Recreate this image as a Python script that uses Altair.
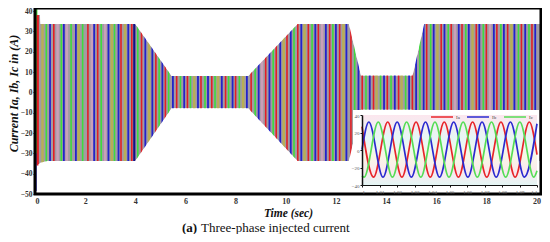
import altair as alt
import pandas as pd

# ---------------- main panel: envelope of the three-phase current
env_t  = [0.0, 0.2, 0.22, 0.5, 4.0, 5.45, 8.5, 10.47, 12.52, 13.0, 15.06, 15.52, 20.18]
env_hi = [38.0, 38.0, 33.6, 33.6, 33.6, 8.0, 8.0, 33.6, 33.6, 8.3, 8.3, 33.6, 33.6]
env_lo = [-36.0, -35.0, -34.6, -33.8, -33.8, -7.8, -7.8, -33.8, -33.8, -8.6, -8.6, -33.8, -33.8]

# visible coloured stripes (aliasing of the 3 phases) : time and colour code
stripe_t = [0.12, 0.3, 0.45, 0.6, 0.75, 0.9, 1.05, 1.15, 1.27, 1.44, 1.63, 1.74, 1.90, 2.11, 2.27,
            2.36, 2.50, 2.64, 2.80, 2.93, 3.06, 3.17, 3.33, 3.43, 3.59, 3.72, 3.86, 3.96,
            4.1, 4.25, 4.4, 4.55, 4.68, 4.82, 4.95, 5.08, 5.2, 5.33, 5.5,
            5.65, 5.8, 5.95, 6.08, 6.2, 6.35, 6.5, 6.62, 6.78, 6.9, 7.05, 7.18, 7.3, 7.45, 7.6,
            7.72, 7.88, 8.0, 8.15, 8.3, 8.45,
            8.62, 8.78, 8.92, 9.05, 9.2, 9.35, 9.5, 9.62, 9.78, 9.92, 10.05, 10.2, 10.33, 10.48,
            10.62, 10.75, 10.9, 11.05, 11.18, 11.3, 11.45, 11.6, 11.75, 11.88, 12.0, 12.15, 12.3, 12.42,
            12.6, 12.75, 12.9, 13.05, 13.2, 13.35, 13.5, 13.62, 13.78, 13.92, 14.05, 14.2, 14.35, 14.5,
            14.62, 14.78, 14.92, 15.05, 15.2, 15.35, 15.5,
            15.62, 15.78, 15.9, 16.05, 16.2, 16.33, 16.48, 16.6, 16.75, 16.9, 17.03, 17.18, 17.3, 17.45,
            17.6, 17.72, 17.88, 18.0, 18.15, 18.3, 18.42, 18.58, 18.7, 18.85, 19.0, 19.12, 19.28, 19.4,
            19.55, 19.7, 19.82, 19.95]
stripe_c = ("rygbrpgbpgbygrpbrgpbygbrybrk"
            "grbybrgbrgb"
            "rgbrgybrgbrgybrgbrgyb"
            "rgbprbgrbyrbgr"
            "byrgbrpbrgbryb"
            "rgbrgbryg" "brgbrygbrbgb"
            "rgbyrbgrpbrgbyrbgrpbrgbrybgrbgrb")

# start-up transient near t = 0
tr_t = [0.03, 0.06, 0.1]
tr_top = [18.0, 41.5, 38.0]
tr_bot = [-48.5, -30.0, -36.0]
tr_c = ["b", "g", "r"]

# ---------------- inset: zoom 1.00 - 1.10 s, extrema
phases = ["Ia", "Ib", "Ic"]
ia_t = [1.0, 1.0066, 1.0147, 1.0228, 1.0309, 1.0390, 1.0470, 1.0551, 1.0632, 1.0713, 1.0794, 1.0875, 1.0956, 1.1]
ia_v = [26.7, -31, 32, -31, 32, -31, 32, -31, 32, -31, 32, -31, 32, -5.4]
ib_t = [1.0, 1.0039, 1.0120, 1.0201, 1.0282, 1.0363, 1.0443, 1.0524, 1.0605, 1.0686, 1.0767, 1.0848, 1.0928, 1.1]
ib_v = [0.5, 32, -31, 32, -31, 32, -31, 32, -31, 32, -31, 32, -31, 30]
ic_t = [1.0, 1.0012, 1.0093, 1.0174, 1.0255, 1.0336, 1.0417, 1.0497, 1.0578, 1.0659, 1.0740, 1.0821, 1.0902, 1.0982, 1.1]
ic_v = [-29.5, -31, 32, -31, 32, -31, 32, -31, 32, -31, 32, -31, 32, -31, -23.7]
inset_xticks = [1.0, 1.01, 1.02, 1.03, 1.04, 1.05, 1.06, 1.07, 1.08, 1.09, 1.1]
inset_yticks = [-40, -20, 0, 20, 40]

caption_a = "(a)"
caption_rest = "Three-phase injected current"

# ---------------- styles / layout
W, H = 506, 186
SERIF = "Liberation Serif"
stripe_colors = {"r": "#e31e24", "g": "#3ddc3d", "b": "#2222cc", "y": "#b8ae55",
                 "p": "#caa0b8", "k": "#111188"}
stripe_widths = {"r": 1.6, "g": 1.6, "b": 1.8, "y": 2.5, "p": 2.5, "k": 2.2}
phase_colors = ["#e8252a", "#2a2ad0", "#55dd55"]

df_env = pd.DataFrame({"t": env_t, "hi": env_hi, "lo": env_lo})
df_str = pd.DataFrame({"t": stripe_t, "c": list(stripe_c)[:len(stripe_t)]})
df_str["color"] = df_str["c"].map(stripe_colors)
df_str["w"] = df_str["c"].map(stripe_widths)
df_tr = pd.DataFrame({"t": tr_t, "top": tr_top, "bot": tr_bot,
                      "color": [stripe_colors[c] for c in tr_c]})

Y_MIN, Y_MAX = -50, 41.5
xs = alt.Scale(domain=[0, 20.18], nice=False, zero=False)
ys = alt.Scale(domain=[Y_MIN, Y_MAX], nice=False, zero=False)

x_axis = alt.Axis(
    values=list(range(0, 21, 2)), title="Time (sec)", ticks=False, domain=False, grid=False,
    labelOverlap=False, labelFont=SERIF, labelFontWeight="bold", labelFontSize=8,
    labelColor="#333", labelPadding=3, titleFont=SERIF, titleFontStyle="italic",
    titleFontWeight="bold", titleFontSize=11.5, titlePadding=2, titleColor="#111")
y_axis = alt.Axis(
    values=list(range(-50, 41, 10)), title="Current Ia, Ib, Ic in (A)", domain=False, grid=False,
    labelOverlap=False, tickSize=2, tickColor="#222", labelFont=SERIF, labelFontWeight="bold",
    labelFontSize=7.5, labelColor="#333", labelPadding=1, titleFont=SERIF,
    titleFontStyle="italic", titleFontWeight="bold", titleFontSize=12, titlePadding=0,
    titleColor="#111", titleY=85)

base = alt.Chart(df_env).mark_area(color="#a29ba3").encode(
    x=alt.X("t:Q", scale=xs, axis=x_axis),
    y=alt.Y("hi:Q", scale=ys, axis=y_axis),
    y2="lo:Q",
)

stripes = alt.Chart(df_str).mark_rule().encode(
    x=alt.X("t:Q", axis=x_axis), y=alt.value(0), y2=alt.value(H),
    color=alt.Color("color:N", scale=None),
    strokeWidth=alt.StrokeWidth("w:Q", scale=None),
)

mask_top = alt.Chart(df_env).mark_area(color="white").encode(
    x=alt.X("t:Q", axis=x_axis), y=alt.Y("hi:Q", axis=y_axis), y2=alt.datum(Y_MAX))
mask_bot = alt.Chart(df_env).mark_area(color="white").encode(
    x=alt.X("t:Q", axis=x_axis), y=alt.Y("lo:Q", axis=y_axis), y2=alt.datum(Y_MIN))

trans = alt.Chart(df_tr).mark_rule(strokeWidth=1.8).encode(
    x=alt.X("t:Q", axis=x_axis), y=alt.Y("top:Q", axis=y_axis), y2="bot:Q",
    color=alt.Color("color:N", scale=None))

one = pd.DataFrame({"k": [0]})
frame = alt.Chart(one).mark_rect(fillOpacity=0, stroke="black", strokeWidth=3).encode(
    x=alt.value(0), x2=alt.value(W), y=alt.value(0), y2=alt.value(H))

cap_a = alt.Chart(pd.DataFrame({"s": [caption_a]})).mark_text(
    align="left", baseline="middle", font=SERIF, fontSize=13, fontWeight="bold", color="#111"
).encode(x=alt.value(147), y=alt.value(219.5), text="s:N")
cap_b = alt.Chart(pd.DataFrame({"s": [caption_rest]})).mark_text(
    align="left", baseline="middle", font=SERIF, fontSize=13, color="#111"
).encode(x=alt.value(166), y=alt.value(219.5), text="s:N")

main = alt.layer(base, stripes, mask_top, mask_bot, trans, frame, cap_a, cap_b)

# ---------------- inset
rows = []
for name, tt, vv in [("Ia", ia_t, ia_v), ("Ib", ib_t, ib_v), ("Ic", ic_t, ic_v)]:
    for i, (a, b) in enumerate(zip(tt, vv)):
        rows.append({"phase": name, "t": a, "v": b, "i": i})
df_in = pd.DataFrame(rows)

IX0, IX1 = 327, 502
IY0, IY1 = 177, 107
ixs = alt.Scale(domain=[1.0, 1.1], range=[IX0, IX1], nice=False, zero=False)
iys = alt.Scale(domain=[-40, 40], range=[IY0, IY1], nice=False, zero=False)

box = alt.Chart(one).mark_rect(color="white").encode(
    x=alt.value(318), x2=alt.value(W - 2), y=alt.value(102), y2=alt.value(H - 2))
bg = alt.Chart(one).mark_rect(fill=alt.Gradient(
    gradient="linear", x1=0, x2=0, y1=0, y2=1,
    stops=[alt.GradientStop(color="#fce6ee", offset=0.0),
           alt.GradientStop(color="#e6f7f6", offset=0.35),
           alt.GradientStop(color="#f8f6e6", offset=0.6),
           alt.GradientStop(color="#fbe8ee", offset=0.8),
           alt.GradientStop(color="#e4f6f5", offset=1.0)])).encode(
    x=alt.value(IX0), x2=alt.value(IX1), y=alt.value(IY1), y2=alt.value(IY0))

lines = alt.Chart(df_in).mark_line(strokeWidth=1.7, interpolate="monotone").encode(
    x=alt.X("t:Q", scale=ixs, axis=alt.Axis(
        orient="bottom", offset=-(H - IY0), values=inset_xticks, format=".2~f", title=None,
        grid=False, labelOverlap=False, domainColor="#111", domainWidth=1.2, tickSize=2,
        tickColor="#111", labelFont=SERIF, labelFontSize=5, labelColor="#555", labelPadding=2,
        zindex=2)),
    y=alt.Y("v:Q", scale=iys, axis=alt.Axis(
        orient="left", offset=-IX0, values=inset_yticks, title=None, grid=False,
        labelOverlap=False, domainColor="#111", domainWidth=1.5, tickSize=2, tickColor="#111",
        labelFont=SERIF, labelFontSize=5, labelColor="#555", labelPadding=1, zindex=2)),
    color=alt.Color("phase:N", scale=alt.Scale(domain=phases, range=phase_colors),
                    legend=alt.Legend(orient="none", legendX=395, legendY=97, direction="horizontal",
                                      title=None, symbolType="stroke", symbolSize=484,
                                      symbolStrokeWidth=1.5, labelFont=SERIF, labelFontSize=5,
                                      labelColor="#444", labelOffset=2, columnPadding=4,
                                      padding=0)),
    order="i:Q",
)

inset = alt.layer(box, bg, lines)

chart = alt.layer(main, inset).resolve_scale(x="independent", y="independent").properties(
    width=W, height=H,
    padding={"left": 27, "top": 0, "right": 1, "bottom": 40},
    autosize=alt.AutoSizeParams(type="none"),
).configure_view(stroke=None)

chart.save("out.html", embed_options={"renderer": "svg", "actions": False})
